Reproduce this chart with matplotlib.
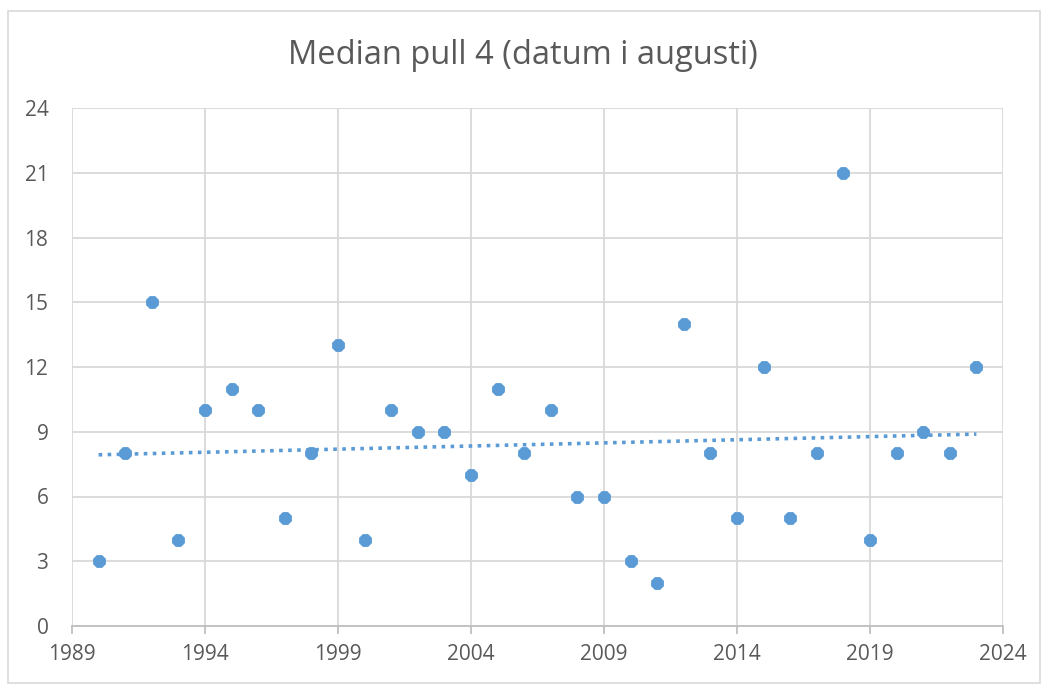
import matplotlib
matplotlib.use("Agg")
import matplotlib.pyplot as plt
import numpy as np

years = [1990, 1991, 1992, 1993, 1994, 1995, 1996, 1997, 1998, 1999,
         2000, 2001, 2002, 2003, 2004, 2005, 2006, 2007, 2008, 2009,
         2010, 2011, 2012, 2013, 2014, 2015, 2016, 2017, 2018, 2019,
         2020, 2021, 2022, 2023]
values = [3, 8, 15, 4, 10, 11, 10, 5, 8, 13,
          4, 10, 9, 9, 7, 11, 8, 10, 6, 6,
          3, 2, 14, 8, 5, 12, 5, 8, 21, 4,
          8, 9, 8, 12]
x_ticks = [1989, 1994, 1999, 2004, 2009, 2014, 2019, 2024]
y_ticks = [0, 3, 6, 9, 12, 15, 18, 21, 24]
title = "Median pull 4 (datum i augusti)"

plt.rcParams['font.family'] = ['Open Sans', 'DejaVu Sans']
txt = '#595959'
grid = '#D9D9D9'
blue = '#5B9BD5'

fig = plt.figure(figsize=(10.46, 6.84), dpi=100)
# outer chart border
fig.patches.append(plt.Rectangle((8/1046, 1/684), 1032/1046, (673-1)/684,
                                 transform=fig.transFigure, fill=False,
                                 edgecolor='#D9D9D9', linewidth=1.2))
ax = fig.add_axes([72/1046, 1-626/684, (1003-72)/1046, (626-108)/684])

ax.scatter(years, values, s=100, color=blue, marker='8', zorder=3, linewidths=0)
coef = np.polyfit(years, values, 1)
tx = np.array([years[0], years[-1]])
ax.plot(tx, np.polyval(coef, tx), linestyle=(0, (1, 1.5)), color=blue,
        linewidth=2.6, zorder=2)

ax.set_xlim(1989, 2024)
ax.set_ylim(0, 24)
ax.set_xticks(x_ticks)
ax.set_yticks(y_ticks)
ax.grid(True, color=grid, linewidth=1.3)
ax.set_axisbelow(True)
for s in ['top', 'right', 'left']:
    ax.spines[s].set_visible(False)
ax.spines['bottom'].set_color('#BFBFBF')
ax.spines['bottom'].set_linewidth(1.3)
ax.tick_params(axis='x', colors='#BFBFBF', length=6, width=1.3, labelcolor=txt,
               labelsize=15, pad=7)
ax.tick_params(axis='y', length=0, labelcolor=txt, labelsize=15, pad=17)
fig.text(0.5, 1-56/684, title, ha='center', va='center', color=txt, fontsize=23.5)

fig.savefig('out.png', dpi=100)
